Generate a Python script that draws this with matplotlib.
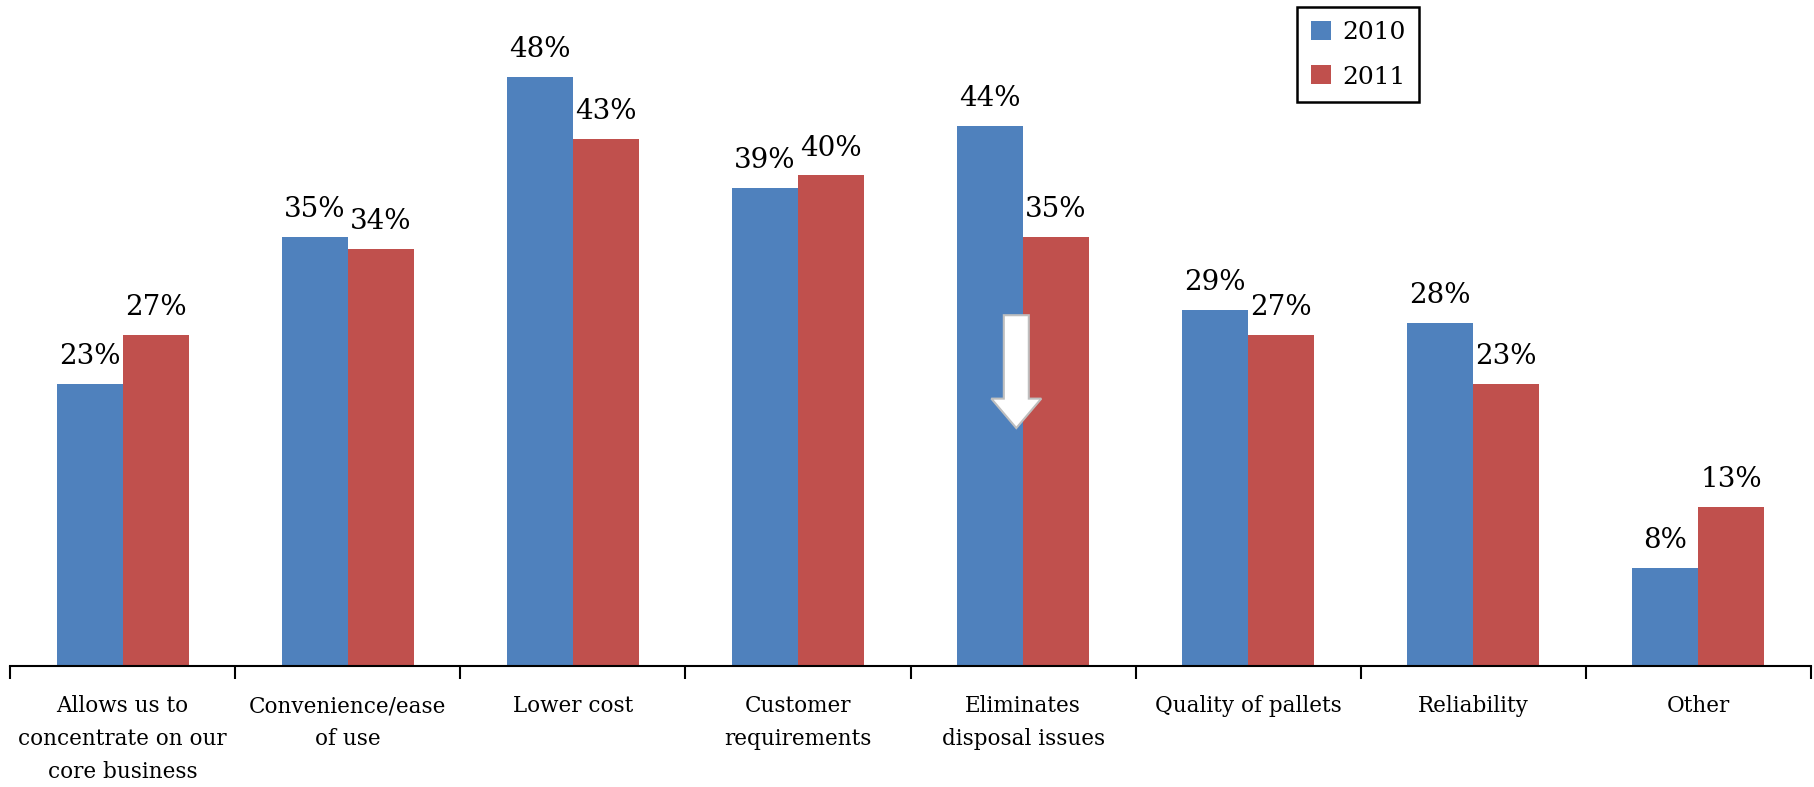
import matplotlib
matplotlib.use("Agg")
import matplotlib.pyplot as plt
import matplotlib.patches as mpatches
import numpy as np

categories = [
    "Allows us to\nconcentrate on our\ncore business",
    "Convenience/ease\nof use",
    "Lower cost",
    "Customer\nrequirements",
    "Eliminates\ndisposal issues",
    "Quality of pallets",
    "Reliability",
    "Other",
]
values_2010 = [23, 35, 48, 39, 44, 29, 28, 8]
values_2011 = [27, 34, 43, 40, 35, 27, 23, 13]

blue = "#4F81BD"
red = "#C0504D"

plt.rcParams['font.family'] = ['DejaVu Serif']

fig = plt.figure(figsize=(18.15, 7.87), dpi=100)
ax = fig.add_axes([10 / 1815, 121 / 787, 1801 / 1815, 666 / 787])

x = np.arange(len(categories)) + 0.5
w = 0.293
b1 = ax.bar(x - w / 2, values_2010, w, color=blue, label="2010")
b2 = ax.bar(x + w / 2, values_2011, w, color=red, label="2011")

for bars, vals in ((b1, values_2010), (b2, values_2011)):
    for r, v in zip(bars, vals):
        ax.annotate(f"{v}%", (r.get_x() + r.get_width() / 2, v),
                    xytext=(0, 10), textcoords="offset points",
                    ha="center", va="bottom", fontsize=20)

# white arrow on the "Eliminates disposal issues" group
arrow = mpatches.FancyArrow(4.47, 28.6, 0, -9.2, width=0.111, head_width=0.222,
                            head_length=2.4, length_includes_head=True,
                            facecolor="white", edgecolor="#bfbfbf", linewidth=1.5,
                            zorder=5)
ax.add_patch(arrow)

ax.set_xlim(0, len(categories))
ax.set_ylim(0, 54.3)

ax.set_xticks(np.arange(len(categories) + 1))
ax.set_xticklabels([])
ax.set_xticks(x, minor=True)
ax.set_xticklabels(categories, minor=True, fontsize=15.5, linespacing=1.65)
ax.tick_params(axis="x", which="major", length=9, width=1.5, direction="out")
ax.tick_params(axis="x", which="minor", length=0, pad=21)
ax.set_yticks([])

for s in ("top", "right", "left"):
    ax.spines[s].set_visible(False)
ax.spines["bottom"].set_linewidth(1.5)

leg = fig.legend(loc="upper right", bbox_to_anchor=(1419 / 1815, 780 / 787),
                 borderaxespad=0, fontsize=18, fancybox=False, framealpha=1,
                 edgecolor="black", handlelength=0.8, handleheight=0.8,
                 handletextpad=0.45, borderpad=0.55, labelspacing=0.85)
leg.get_frame().set_linewidth(1.8)

fig.savefig("out.png", dpi=100)
